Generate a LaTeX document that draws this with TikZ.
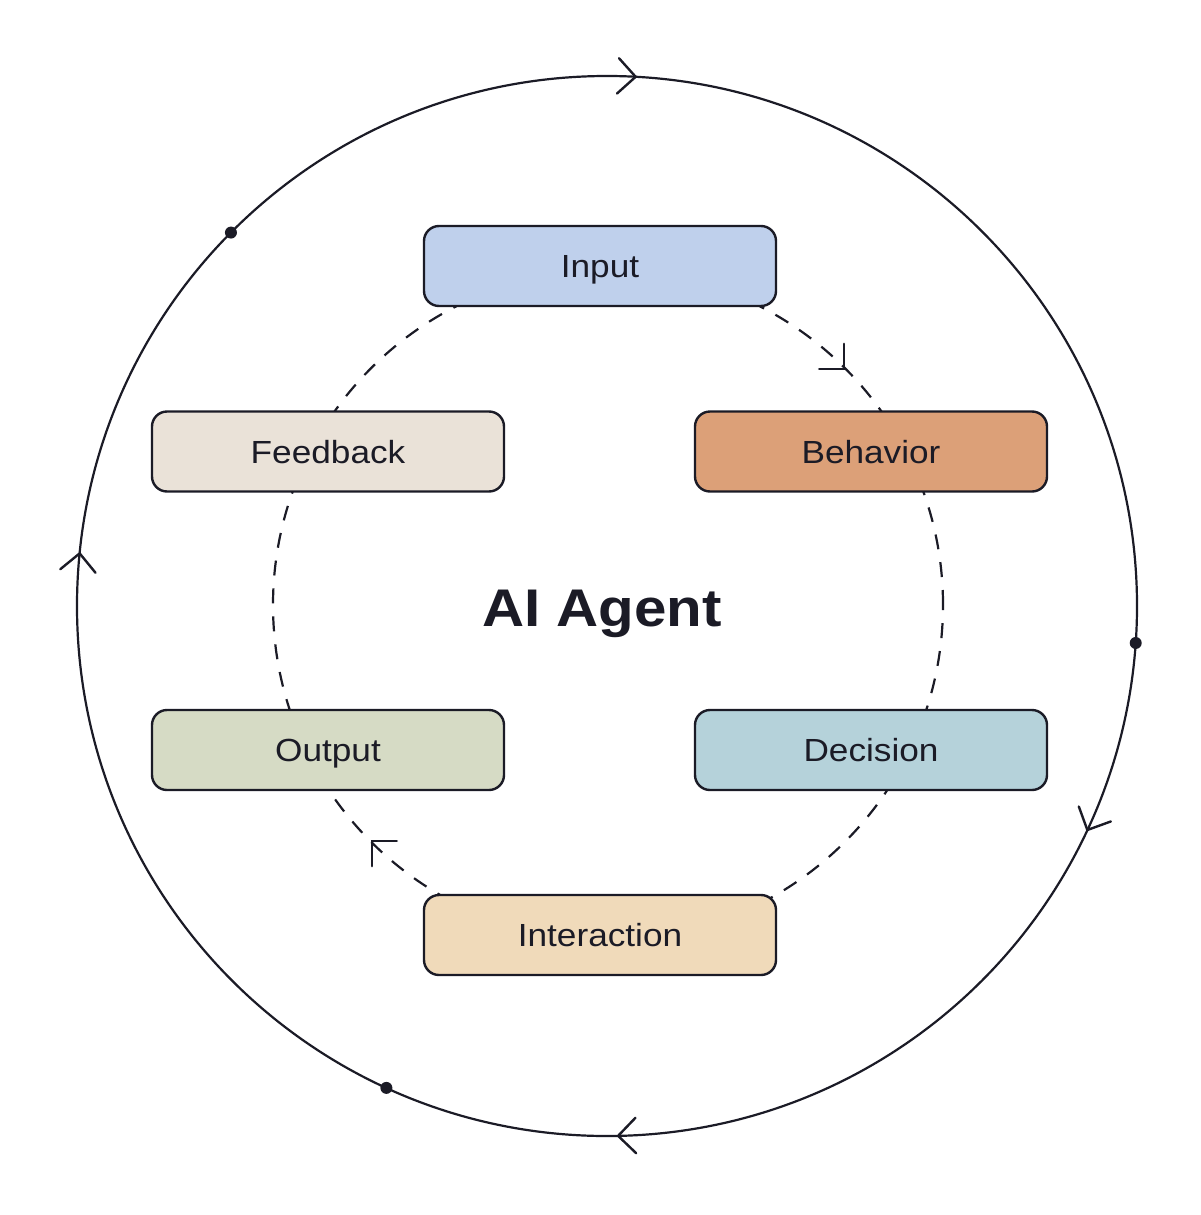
\documentclass[tikz,border=0pt]{standalone}
\usepackage{fontspec}
\setmainfont{Liberation Sans}[FakeStretch=1.1]
\usetikzlibrary{calc}
\definecolor{ink}{HTML}{1B1B26}
\definecolor{cInput}{HTML}{BFD0EC}
\definecolor{cBehavior}{HTML}{DCA078}
\definecolor{cFeedback}{HTML}{EAE2D8}
\definecolor{cOutput}{HTML}{D6DBC5}
\definecolor{cDecision}{HTML}{B5D2DA}
\definecolor{cInteraction}{HTML}{F0DABA}
\tikzset{
  stage/.style={draw=ink, line width=2.4pt, rounded corners=15pt,
    minimum width=352pt, minimum height=80pt, inner sep=0pt,
    text=ink, font=\fontsize{32}{38}\selectfont,
    text height=23pt, text depth=0pt},
  ring/.style={draw=ink, line width=2.2pt},
  dashring/.style={draw=ink, line width=2.2pt, dash pattern=on 15pt off 13pt},
  chev/.style={draw=ink, line width=2.4pt, line cap=round, line join=miter},
  dot/.style={circle, fill=ink, inner sep=0pt, minimum size=12pt}
}
\begin{document}
\begin{tikzpicture}[x=1pt,y=1pt]
\useasboundingbox (0,0) rectangle (1200,-1215);
\coordinate (O) at (607,-606);
\coordinate (D) at (608,-605);
% outer ring
\draw[ring] (O) circle (530);
% dashed inner ring
\draw[dashring] (D) circle (335);
% outer arrows (clockwise)
\foreach \a in {86.9,-25,-88.8,174.3}{
  \draw[chev] ($(O)+(\a:530)+(\a+45:25)$) -- ($(O)+(\a:530)$) -- ($(O)+(\a:530)+(\a+135:25)$);
}
% dashed ring arrows
\foreach \a in {45,225}{
  \draw[chev] ($(D)+(\a:334)+(\a+45:25)$) -- ($(D)+(\a:334)$) -- ($(D)+(\a:334)+(\a+135:25)$);
}
% dots
\node[dot] (d1) at ($(O)+(135.2:530)$) {};
\node[dot] (d2) at ($(O)+(-4:530)$) {};
\node[dot] (d3) at ($(O)+(245.4:530)$) {};
% stages
\node[stage, fill=cInput] (input) at (600,-266) {Input};
\node[stage, fill=cBehavior] (behavior) at (871,-451.5) {Behavior};
\node[stage, fill=cFeedback] (feedback) at (328,-451.5) {Feedback};
\node[stage, fill=cOutput] (output) at (328,-750) {Output};
\node[stage, fill=cDecision] (decision) at (871,-750) {Decision};
\node[stage, fill=cInteraction] (interaction) at (600,-935) {Interaction};
% centre title
\node[text=ink, font=\fontsize{53}{60}\selectfont\bfseries, text height=38pt, text depth=0pt, inner sep=0pt] (title) at (602,-607) {AI Agent};
\end{tikzpicture}
\end{document}
